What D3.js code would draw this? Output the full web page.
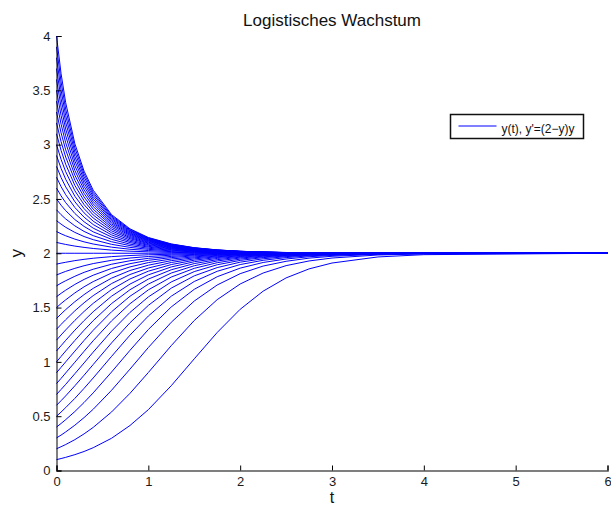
<!DOCTYPE html>
<html>
<head>
<meta charset="utf-8">
<script src="https://cdn.jsdelivr.net/npm/d3@7"></script>
<style>
  body { margin: 0; background: #fff; }
  svg { display: block; font-family: "Liberation Sans", Arial, Helvetica, sans-serif; }
</style>
</head>
<body>
<svg id="CHART" width="611" height="507"></svg>
<script>
// time points of the solver output (t)
var tPoints = [0, 0.05, 0.1, 0.2, 0.3, 0.4, 0.6, 0.8, 1, 1.25, 1.5, 1.75, 2, 2.25, 2.5, 2.75, 3, 3.5, 4, 6];

// y(t) for each start value y0 = 0.1 ... 4.0
var curves = [
  [0.1, 0.110, 0.121, 0.146, 0.175, 0.210, 0.297, 0.414, 0.560, 0.781, 1.028, 1.271, 1.484, 1.651, 1.773, 1.856, 1.910, 1.966, 1.987, 2],
  [0.2, 0.219, 0.239, 0.284, 0.337, 0.397, 0.539, 0.710, 0.902, 1.150, 1.381, 1.573, 1.717, 1.818, 1.886, 1.929, 1.956, 1.984, 1.994, 2],
  [0.3, 0.326, 0.355, 0.417, 0.487, 0.564, 0.739, 0.933, 1.132, 1.365, 1.560, 1.708, 1.812, 1.882, 1.926, 1.955, 1.972, 1.990, 1.996, 2],
  [0.4, 0.433, 0.468, 0.543, 0.626, 0.715, 0.907, 1.106, 1.298, 1.506, 1.668, 1.784, 1.863, 1.915, 1.947, 1.968, 1.980, 1.993, 1.997, 2],
  [0.5, 0.538, 0.579, 0.664, 0.756, 0.852, 1.051, 1.246, 1.422, 1.605, 1.740, 1.834, 1.896, 1.935, 1.960, 1.976, 1.985, 1.995, 1.998, 2],
  [0.6, 0.643, 0.687, 0.780, 0.877, 0.976, 1.175, 1.360, 1.520, 1.679, 1.792, 1.868, 1.918, 1.949, 1.969, 1.981, 1.988, 1.996, 1.998, 2],
  [0.7, 0.746, 0.793, 0.891, 0.990, 1.090, 1.283, 1.455, 1.598, 1.736, 1.831, 1.894, 1.934, 1.960, 1.975, 1.985, 1.991, 1.997, 1.999, 2],
  [0.8, 0.848, 0.898, 0.997, 1.097, 1.195, 1.378, 1.535, 1.663, 1.781, 1.861, 1.913, 1.946, 1.967, 1.980, 1.988, 1.993, 1.997, 1.999, 2],
  [0.9, 0.950, 1.000, 1.099, 1.197, 1.291, 1.462, 1.604, 1.716, 1.818, 1.885, 1.929, 1.956, 1.973, 1.984, 1.990, 1.994, 1.998, 1.999, 2],
  [1.0, 1.050, 1.100, 1.197, 1.291, 1.380, 1.537, 1.664, 1.762, 1.848, 1.905, 1.941, 1.964, 1.978, 1.987, 1.992, 1.995, 1.998, 1.999, 2],
  [1.1, 1.149, 1.198, 1.292, 1.380, 1.462, 1.605, 1.716, 1.801, 1.874, 1.922, 1.952, 1.970, 1.982, 1.989, 1.993, 1.996, 1.999, 1.999, 2],
  [1.2, 1.248, 1.294, 1.382, 1.464, 1.539, 1.666, 1.763, 1.835, 1.896, 1.936, 1.961, 1.976, 1.985, 1.991, 1.995, 1.997, 1.999, 2, 2],
  [1.3, 1.345, 1.388, 1.470, 1.544, 1.610, 1.721, 1.804, 1.864, 1.915, 1.948, 1.968, 1.980, 1.988, 1.993, 1.996, 1.997, 1.999, 2, 2],
  [1.4, 1.441, 1.481, 1.554, 1.619, 1.677, 1.771, 1.841, 1.890, 1.932, 1.958, 1.974, 1.985, 1.991, 1.994, 1.997, 1.998, 1.999, 2, 2],
  [1.5, 1.537, 1.571, 1.635, 1.691, 1.739, 1.818, 1.874, 1.914, 1.947, 1.967, 1.980, 1.988, 1.993, 1.996, 1.997, 1.998, 1.999, 2, 2],
  [1.6, 1.631, 1.660, 1.713, 1.759, 1.798, 1.860, 1.904, 1.935, 1.960, 1.976, 1.985, 1.991, 1.994, 1.997, 1.998, 1.999, 2, 2, 2],
  [1.7, 1.725, 1.747, 1.788, 1.824, 1.853, 1.899, 1.931, 1.953, 1.971, 1.983, 1.989, 1.994, 1.996, 1.998, 1.999, 1.999, 2, 2, 2],
  [1.8, 1.817, 1.833, 1.861, 1.885, 1.905, 1.935, 1.956, 1.970, 1.982, 1.989, 1.993, 1.996, 1.998, 1.999, 1.999, 1.999, 2, 2, 2],
  [1.9, 1.909, 1.917, 1.932, 1.944, 1.954, 1.969, 1.979, 1.986, 1.991, 1.995, 1.997, 1.998, 1.999, 1.999, 2, 2, 2, 2, 2],
  [2.0, 2, 2, 2, 2, 2, 2, 2, 2, 2, 2, 2, 2, 2, 2, 2, 2, 2, 2, 2],
  [2.1, 2.090, 2.081, 2.066, 2.054, 2.044, 2.029, 2.019, 2.013, 2.008, 2.005, 2.003, 2.002, 2.001, 2.001, 2, 2, 2, 2, 2],
  [2.2, 2.179, 2.161, 2.130, 2.105, 2.085, 2.056, 2.037, 2.025, 2.015, 2.009, 2.006, 2.003, 2.002, 2.001, 2.001, 2, 2, 2, 2],
  [2.3, 2.268, 2.239, 2.192, 2.154, 2.125, 2.082, 2.054, 2.036, 2.022, 2.013, 2.008, 2.005, 2.003, 2.002, 2.001, 2.001, 2, 2, 2],
  [2.4, 2.355, 2.316, 2.252, 2.201, 2.162, 2.106, 2.070, 2.046, 2.028, 2.017, 2.010, 2.006, 2.004, 2.002, 2.001, 2.001, 2, 2, 2],
  [2.5, 2.442, 2.392, 2.310, 2.247, 2.197, 2.128, 2.084, 2.056, 2.033, 2.020, 2.012, 2.007, 2.004, 2.003, 2.002, 2.001, 2, 2, 2],
  [2.6, 2.528, 2.466, 2.366, 2.290, 2.231, 2.149, 2.098, 2.064, 2.039, 2.023, 2.014, 2.008, 2.005, 2.003, 2.002, 2.001, 2, 2, 2],
  [2.7, 2.613, 2.539, 2.421, 2.332, 2.264, 2.169, 2.110, 2.073, 2.043, 2.026, 2.016, 2.010, 2.006, 2.003, 2.002, 2.001, 2, 2, 2],
  [2.8, 2.697, 2.611, 2.474, 2.372, 2.295, 2.188, 2.122, 2.080, 2.048, 2.029, 2.017, 2.011, 2.006, 2.004, 2.002, 2.001, 2, 2, 2],
  [2.9, 2.781, 2.681, 2.525, 2.411, 2.324, 2.206, 2.134, 2.088, 2.052, 2.031, 2.019, 2.011, 2.007, 2.004, 2.003, 2.002, 2.001, 2, 2],
  [3.0, 2.864, 2.751, 2.575, 2.448, 2.352, 2.223, 2.144, 2.094, 2.056, 2.034, 2.020, 2.012, 2.007, 2.005, 2.003, 2.002, 2.001, 2, 2],
  [3.1, 2.946, 2.819, 2.624, 2.484, 2.379, 2.239, 2.154, 2.101, 2.060, 2.036, 2.022, 2.013, 2.008, 2.005, 2.003, 2.002, 2.001, 2, 2],
  [3.2, 3.027, 2.886, 2.672, 2.518, 2.405, 2.255, 2.164, 2.107, 2.064, 2.038, 2.023, 2.014, 2.008, 2.005, 2.003, 2.002, 2.001, 2, 2],
  [3.3, 3.108, 2.952, 2.718, 2.552, 2.430, 2.269, 2.173, 2.113, 2.067, 2.040, 2.024, 2.015, 2.009, 2.005, 2.003, 2.002, 2.001, 2, 2],
  [3.4, 3.188, 3.017, 2.762, 2.584, 2.454, 2.283, 2.181, 2.118, 2.070, 2.042, 2.025, 2.015, 2.009, 2.006, 2.003, 2.002, 2.001, 2, 2],
  [3.5, 3.267, 3.081, 2.806, 2.615, 2.477, 2.296, 2.189, 2.123, 2.073, 2.044, 2.026, 2.016, 2.010, 2.006, 2.004, 2.002, 2.001, 2, 2],
  [3.6, 3.345, 3.144, 2.849, 2.645, 2.499, 2.309, 2.197, 2.128, 2.076, 2.045, 2.027, 2.016, 2.010, 2.006, 2.004, 2.002, 2.001, 2, 2],
  [3.7, 3.423, 3.206, 2.890, 2.674, 2.520, 2.321, 2.205, 2.133, 2.078, 2.047, 2.028, 2.017, 2.010, 2.006, 2.004, 2.002, 2.001, 2, 2],
  [3.8, 3.500, 3.267, 2.930, 2.703, 2.541, 2.333, 2.211, 2.137, 2.081, 2.048, 2.029, 2.018, 2.011, 2.006, 2.004, 2.002, 2.001, 2, 2],
  [3.9, 3.577, 3.327, 2.970, 2.730, 2.560, 2.344, 2.218, 2.141, 2.083, 2.050, 2.030, 2.018, 2.011, 2.007, 2.004, 2.002, 2.001, 2, 2],
  [4.0, 3.652, 3.386, 3.008, 2.756, 2.580, 2.355, 2.225, 2.145, 2.086, 2.051, 2.031, 2.018, 2.011, 2.007, 2.004, 2.002, 2.001, 2, 2]
];

var xTicks = [0, 1, 2, 3, 4, 5, 6];
var yTicks = [0, 0.5, 1, 1.5, 2, 2.5, 3, 3.5, 4];
var yTickLabels = ["0", "0.5", "1", "1.5", "2", "2.5", "3", "3.5", "4"];

var titleText = "Logistisches Wachstum";
var legendText = "y(t), y'=(2\u2212y)y";

var svg = d3.select("#CHART");

// plot box (window.top is read-only, so no "top" here)
var plotLeft = 56.5, plotRight = 607.5, plotTop = 36, plotBottom = 470.5;

var x = d3.scaleLinear().domain([0, 6]).range([plotLeft, plotRight]);
var y = d3.scaleLinear().domain([0, 4]).range([plotBottom, plotTop]);

var line = d3
  .line()
  .x(function (d, i) { return x(tPoints[i]); })
  .y(function (d) { return y(d); });

// curves
svg
  .append("g")
  .attr("fill", "none")
  .attr("stroke", "#0000ff")
  .attr("stroke-width", 1)
  .selectAll("path")
  .data(curves)
  .join("path")
  .attr("d", line);

// x axis (ticks pointing inward, like matlab)
var xAxis = svg
  .append("g")
  .attr("transform", "translate(0," + plotBottom + ")")
  .call(
    d3.axisBottom(x)
      .tickValues(xTicks)
      .tickSize(-5)
      .tickPadding(6)
      .tickFormat(d3.format("d"))
  );
xAxis.select(".domain").attr("stroke", "#555").attr("stroke-width", 1.6);

var yAxis = svg
  .append("g")
  .attr("transform", "translate(" + plotLeft + ",0)")
  .call(
    d3.axisLeft(y)
      .tickValues(yTicks)
      .tickSize(-5)
      .tickPadding(6)
      .tickFormat(function (d, i) { return yTickLabels[i]; })
  );
yAxis.select(".domain").attr("stroke", "#000");

svg.selectAll(".tick text")
  .attr("font-size", 13)
  .attr("font-family", "'Liberation Sans', Arial, sans-serif")
  .attr("fill", "#1a1a1a");
svg.selectAll(".tick line").attr("stroke", "#000");

// title and labels
svg
  .append("text")
  .attr("x", (plotLeft + plotRight) / 2)
  .attr("y", 26)
  .attr("text-anchor", "middle")
  .attr("font-size", 17)
  .attr("fill", "#111")
  .text(titleText);

svg
  .append("text")
  .attr("x", (plotLeft + plotRight) / 2)
  .attr("y", 503)
  .attr("text-anchor", "middle")
  .attr("font-size", 16)
  .attr("fill", "#111")
  .text("t");

svg
  .append("text")
  .attr("transform", "translate(22," + y(2) + ") rotate(-90)")
  .attr("text-anchor", "middle")
  .attr("font-size", 17)
  .attr("fill", "#111")
  .text("y");

// legend
var legend = svg.append("g").attr("transform", "translate(450.5,114.5)");
legend
  .append("rect")
  .attr("width", 133)
  .attr("height", 24)
  .attr("fill", "#fff")
  .attr("stroke", "#111")
  .attr("stroke-width", 1.5);
legend
  .append("line")
  .attr("x1", 8)
  .attr("x2", 46)
  .attr("y1", 11.5)
  .attr("y2", 11.5)
  .attr("stroke", "#0000ff");
legend
  .append("text")
  .attr("x", 51)
  .attr("y", 18)
  .attr("font-size", 12)
  .attr("fill", "#111")
  .text(legendText);
</script>
</body>
</html>
